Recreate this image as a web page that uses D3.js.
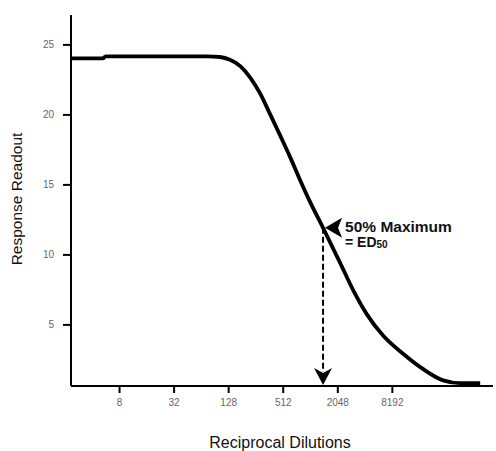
<!DOCTYPE html>
<html>
<head>
<meta charset="utf-8">
<script src="https://cdn.jsdelivr.net/npm/d3@7"></script>
<style>
  html, body { margin: 0; padding: 0; background: #fff; }
  svg { display: block; font-family: "Liberation Sans", Arial, sans-serif; }
</style>
</head>
<body>
<div id="chart"></div>
<script>
// dose-response curve
const dilutions = [2.4, 5.3, 5.7, 75, 104, 134, 174, 223, 288, 372, 479, 618, 797, 1025, 1426, 2200, 3064, 4363, 6550, 10900, 18160, 30160, 46400, 77300];
const response = [24.0, 24.0, 24.15, 24.15, 24.1, 23.9, 23.45, 22.65, 21.5, 20.0, 18.5, 16.95, 15.3, 13.75, 11.9, 9.4, 7.45, 5.7, 4.2, 2.9, 1.8, 1.0, 0.8, 0.8];

const xTicks = [8, 32, 128, 512, 2048, 8192];
const yTicks = [5, 10, 15, 20, 25];

// ED50 marker
const ed50Dilution = 1426;
const ed50Response = 11.9;

const W = 496, H = 451;
const margin = { top: 15, right: 3, bottom: 65, left: 71 };

const svg = d3.select("#chart").append("svg").attr("width", W).attr("height", H);

const x = d3.scaleLog().base(2).domain([2.36, 107000]).range([margin.left, W - margin.right]);
const y = d3.scaleLinear().domain([0.6, 27.1]).range([H - margin.bottom, margin.top]);

// axes
const xAxis = svg.append("g")
  .attr("transform", `translate(0,${H - margin.bottom})`)
  .call(d3.axisBottom(x).tickValues(xTicks).tickFormat(d3.format("d")).tickSize(7).tickPadding(6));
const yAxis = svg.append("g")
  .attr("transform", `translate(${margin.left},0)`)
  .call(d3.axisLeft(y).tickValues(yTicks).tickSize(8).tickPadding(9));

for (const g of [xAxis, yAxis]) {
  g.select(".domain").attr("stroke", "#000").attr("stroke-width", 2);
  g.selectAll(".tick line").attr("stroke", "#000").attr("stroke-width", 2);
  g.selectAll(".tick text").attr("fill", "#666").attr("font-size", 10);
}
xAxis.select(".domain").attr("d", `M${margin.left},0H${W - margin.right}`);
yAxis.select(".domain").attr("d", `M0,${margin.top}V${H - margin.bottom}`);

// curve
const pts = dilutions.map((d, i) => [d, response[i]]);
const line = d3.line().x((d) => x(d[0])).y((d) => y(d[1])).curve(d3.curveMonotoneX);
svg.append("path")
  .datum(pts)
  .attr("d", line)
  .attr("fill", "none")
  .attr("stroke", "#000")
  .attr("stroke-width", 3.8)
  .attr("stroke-linejoin", "round");

// ED50 dashed drop line + arrow
const ex = x(ed50Dilution), ey = y(ed50Response);
const baseY = H - margin.bottom;
svg.append("line")
  .attr("x1", ex).attr("x2", ex)
  .attr("y1", ey).attr("y2", baseY - 14)
  .attr("stroke", "#000").attr("stroke-width", 2)
  .attr("stroke-dasharray", "6,3");
svg.append("path")
  .attr("d", `M${ex},${baseY - 1} L${ex - 9},${baseY - 18} L${ex},${baseY - 13} L${ex + 9},${baseY - 18} Z`)
  .attr("fill", "#000");

// label arrow pointing at the curve
svg.append("path")
  .attr("d", `M${ex + 2},${ey} L${ex + 19},${ey - 10} L${ex + 15},${ey} L${ex + 19},${ey + 10} Z`)
  .attr("fill", "#000");

svg.append("text")
  .attr("x", ex + 22).attr("y", ey + 4)
  .attr("font-size", 15.5).attr("font-weight", "bold").attr("fill", "#111")
  .text("50% Maximum");
const label2 = svg.append("text")
  .attr("x", ex + 22).attr("y", ey + 19)
  .attr("font-size", 14).attr("font-weight", "bold").attr("fill", "#111");
label2.append("tspan").text("= ED");
label2.append("tspan").attr("font-size", 10).attr("dy", 1).text("50");

// axis titles
svg.append("text")
  .attr("x", 280).attr("y", 448)
  .attr("text-anchor", "middle")
  .attr("font-size", 16).attr("fill", "#111")
  .text("Reciprocal Dilutions");
svg.append("text")
  .attr("transform", "translate(22,199) rotate(-90)")
  .attr("text-anchor", "middle")
  .attr("font-size", 15.5).attr("fill", "#111")
  .text("Response Readout");
</script>
</body>
</html>
